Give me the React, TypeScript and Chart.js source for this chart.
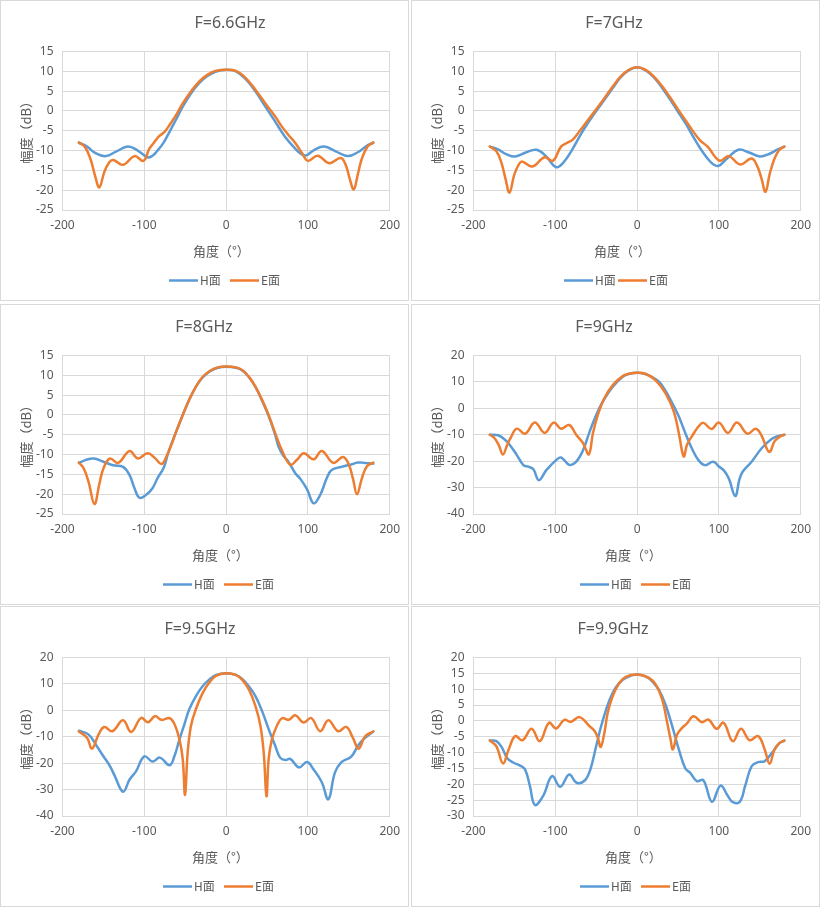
import React, { useEffect, useRef } from 'react';
import { Chart, registerables } from 'chart.js';

Chart.register(...registerables);

type Pt = [number, number];

// ---- data ----
const titles = ['F=6.6GHz', 'F=7GHz', 'F=8GHz', 'F=9GHz', 'F=9.5GHz', 'F=9.9GHz'];
const seriesNames = ['H面', 'E面'];
const xTitle = '角度（°）';
const yTitle = '幅度（dB）';
const xMin = -200;
const xMax = 200;
const xStep = 100;
const yMins = [-25, -25, -25, -40, -40, -30];
const yMaxs = [15, 15, 15, 20, 20, 20];
const ySteps = [5, 5, 5, 10, 10, 5];

// [angle, dB]
const h66: Pt[] = [[-180, -8], [-170, -9], [-160, -10.6], [-147, -11.4], [-134, -10.2], [-120, -9], [-108, -10], [-96, -11.7], [-90, -11.3], [-85, -10.3], [-77, -8.2], [-69, -5.2], [-61, -2.1], [-53, 1.1], [-43, 4.4], [-33, 7], [-23, 8.8], [-13, 9.9], [0, 10.4], [12, 10], [24, 8], [36, 4.9], [48, 1.1], [60, -2.7], [72, -6.5], [84, -9.4], [92, -10.9], [98, -11.2], [108, -9.8], [120, -9], [134, -10.2], [149, -11.4], [162, -10.3], [172, -8.8], [180, -8]];
const e66: Pt[] = [[-180, -8], [-173, -9], [-166, -12], [-160, -16.5], [-155, -19.3], [-149, -15.5], [-143, -13], [-138, -12.4], [-126, -13.6], [-112, -11.4], [-101, -12.6], [-94, -9.6], [-89, -8.2], [-83, -6.6], [-75, -5.2], [-69, -3.5], [-61, -1], [-53, 1.9], [-43, 4.9], [-33, 7.4], [-23, 9.1], [-13, 10.1], [0, 10.4], [12, 10.1], [24, 8.3], [36, 5.3], [48, 1.9], [60, -1.4], [68, -3.9], [76, -6], [85, -8.2], [93, -10.7], [100, -12.6], [112, -11.3], [126, -13.2], [140, -11.9], [146, -13.5], [151, -17], [156, -19.8], [161, -16], [166, -12], [173, -9], [180, -8]];

const h7: Pt[] = [[-180, -9], [-170, -9.7], [-160, -10.9], [-149, -11.5], [-136, -10.5], [-123, -9.8], [-112, -11.3], [-99, -14.2], [-90, -13], [-80, -10], [-68, -5.6], [-60, -3], [-50, 0], [-40, 2.8], [-30, 5.7], [-20, 8.5], [-10, 10.3], [0, 11], [10, 10.3], [20, 8.6], [30, 6], [40, 3], [50, -0.2], [60, -3.4], [70, -7], [80, -10.3], [90, -12.9], [99, -13.9], [110, -12], [124, -9.8], [137, -10.5], [150, -11.5], [162, -10.8], [172, -9.7], [180, -9]];
const e7: Pt[] = [[-180, -9], [-172, -10.2], [-166, -13], [-161, -17], [-156, -20.6], [-150, -16], [-144, -13.3], [-140, -12.8], [-128, -14], [-113, -11.7], [-103, -12.6], [-93, -9], [-85, -8], [-79, -7.3], [-70, -5], [-60, -2.3], [-50, 0.4], [-40, 3.2], [-30, 6.1], [-20, 8.7], [-10, 10.4], [0, 11], [10, 10.4], [20, 8.8], [30, 6.4], [40, 3.5], [50, 0.4], [60, -2.6], [70, -5.6], [77, -7.4], [87, -9.2], [95, -11.5], [102, -12.6], [112, -11.4], [126, -13.5], [140, -12], [147, -14], [152, -17], [157, -20.4], [162, -16], [168, -12], [174, -9.8], [180, -9]];

const h8: Pt[] = [[-180, -12.1], [-172, -11.4], [-162, -11], [-150, -11.8], [-138, -12.7], [-126, -13.1], [-118, -15.2], [-112, -18.5], [-106, -20.9], [-98, -20.2], [-90, -18.5], [-84, -16], [-76, -13.2], [-71, -9.7], [-65, -6.3], [-61, -4.2], [-53, 0], [-45, 3.9], [-37, 7.1], [-29, 9.4], [-20, 11], [-10, 11.9], [0, 12.15], [12, 11.9], [20, 11.2], [28, 9.5], [36, 7], [44, 3.6], [52, -0.3], [60, -5], [64, -8], [70, -10.3], [76.5, -11.9], [84.6, -14.7], [91, -16.2], [99, -18.8], [107, -22.3], [115, -20.2], [123, -16], [129, -13.9], [141, -13.1], [153, -12.5], [161, -12], [170, -12.1], [180, -12.3]];
const e8: Pt[] = [[-180, -12], [-174, -13.5], [-168, -17], [-161, -22.5], [-155, -17.5], [-150, -13.5], [-142, -11], [-132, -12.1], [-118, -9.1], [-108, -11], [-96, -9.7], [-87, -10.9], [-79, -12.4], [-73, -10.5], [-67, -7.6], [-61, -4.2], [-53, 0], [-45, 3.9], [-37, 7.1], [-29, 9.5], [-20, 11.1], [-10, 12], [0, 12.2], [12, 12], [20, 11.3], [28, 9.6], [36, 7.1], [44, 3.8], [52, 0], [60, -4.6], [68, -8.8], [78.5, -12.6], [86.6, -11.3], [95, -9.7], [107, -11.2], [117, -9.1], [131, -12.1], [143, -10.6], [150, -12.5], [155, -16], [160, -20], [166, -16], [172, -13], [180, -12]];

const h9: Pt[] = [[-180, -10], [-170, -10.2], [-163, -11.5], [-157, -13.3], [-147, -17.7], [-139, -21.5], [-133, -22.1], [-127, -23], [-120, -27.2], [-111, -23.4], [-99, -19.6], [-93, -18.6], [-83, -21.4], [-75, -20.4], [-66, -15.8], [-58, -8.8], [-50, -2.5], [-42, 2.5], [-30, 8.1], [-18, 11.9], [-10, 13], [0, 13.5], [10, 13], [18, 11.9], [27, 10], [35, 6.5], [43, 1.9], [51, -3.1], [59, -9.4], [67, -15.2], [75, -19.6], [83, -21.5], [93, -20.2], [100, -22], [106, -23.5], [112, -26.5], [120, -33.2], [125, -27], [129, -24], [140, -20.2], [152, -15.2], [164, -11.7], [172, -10.5], [180, -10]];
const e9: Pt[] = [[-180, -10], [-174, -11.4], [-169, -14], [-164, -17.5], [-159, -14], [-155, -11.4], [-147, -7.7], [-137, -9.6], [-125, -5.4], [-113, -9.3], [-102, -5.4], [-93, -7.7], [-83, -6.3], [-74.5, -10], [-66, -13.2], [-59, -17.4], [-54, -9.4], [-48, -2.5], [-40, 3.8], [-30, 8.7], [-18, 12.1], [-10, 13.1], [0, 13.5], [10, 13.1], [22.7, 10.6], [35, 5.6], [45, -1.3], [51, -9.4], [57, -18.2], [61, -13.8], [67, -10.6], [75, -6.9], [81, -5.5], [91, -7.8], [100, -5.4], [111, -9.3], [122, -5.4], [135, -9.6], [145, -7.7], [152, -10.2], [161.5, -16.5], [168, -12.5], [174, -10.8], [180, -10]];

const h95: Pt[] = [[-180, -7.7], [-168, -9.2], [-158, -13.6], [-150, -17.4], [-142, -21.1], [-136, -24.9], [-126, -30.8], [-118, -26.2], [-110, -23], [-100, -17.4], [-90, -19.4], [-81, -17.9], [-69, -20.8], [-63, -17.2], [-57, -11], [-51, -5.3], [-45, 0.4], [-37, 5.3], [-29, 9], [-20, 11.8], [-12, 13.4], [0, 14], [12, 13.4], [20, 11.8], [28, 9], [36, 5.3], [44, -0.3], [52, -7.1], [60, -13.4], [66, -17.9], [72.5, -18.8], [78.5, -18.4], [89, -21.6], [99, -19.6], [107, -22.4], [117, -27.2], [125, -33.7], [133, -23.6], [141, -19.6], [153, -17.5], [162, -13], [170, -10.4], [180, -8]];
const e95: Pt[] = [[-180, -8], [-170, -10.4], [-164, -14.5], [-156, -9.2], [-149, -6.3], [-139, -7.9], [-126, -3.8], [-116, -8.2], [-104, -2.9], [-95.5, -4.5], [-87, -2.2], [-79, -3.6], [-69, -3], [-63, -5.3], [-57, -11], [-53, -18.5], [-50.2, -32], [-47, -16], [-43, -5.9], [-37, 0.4], [-28.7, 6.5], [-20.6, 10.5], [-12.6, 13], [0, 14], [11.7, 13.4], [19.8, 11.5], [28, 7.8], [36, 1.5], [42, -5.9], [46, -16], [49.4, -32.5], [52, -18.5], [56, -11], [62, -5.9], [68.4, -3], [76.5, -3.6], [84.6, -1.9], [94.7, -4.6], [104, -2.9], [115, -7.9], [125, -3.8], [137, -7.9], [147, -6.3], [155, -10.4], [162, -14.5], [170, -9.8], [180, -8]];

const h99: Pt[] = [[-180, -6.2], [-172, -6.4], [-165, -8.5], [-159, -11.7], [-151, -13.2], [-143, -14.1], [-137, -15.3], [-131, -20.6], [-125, -26.5], [-115, -23.7], [-104, -17.4], [-94, -20.8], [-83, -16.9], [-74, -19.5], [-64, -18.8], [-57, -15.2], [-50, -7.9], [-44, -1.7], [-38, 3.5], [-30, 8.8], [-22, 11.9], [-13.8, 13.6], [0, 14.6], [12, 13.8], [20, 12], [26.7, 9.8], [34.8, 5.1], [43, -1.7], [51, -9], [59, -15], [65, -16.4], [73, -19], [81, -18.7], [91.5, -25.5], [102, -20.4], [111, -23.7], [117, -25.6], [125.6, -25.5], [132, -20.6], [140, -14.3], [148, -13], [156, -12.7], [168, -9], [174, -7], [180, -6.2]];
const e99: Pt[] = [[-180, -6.2], [-172, -8], [-164, -13.4], [-157, -9], [-149, -4.8], [-140, -6.1], [-129, -2.5], [-119, -6.4], [-107.7, -0.6], [-99, -2.4], [-89, 0.3], [-81, -0.3], [-70.4, 1.2], [-58, -1.7], [-52, -3.2], [-48, -5.3], [-44.5, -8.2], [-40, -3.8], [-36, 2.5], [-30, 7.7], [-22, 11.9], [-13.8, 13.9], [0, 14.6], [14.6, 13.6], [22.7, 11.5], [30.8, 6.7], [36.8, -0.6], [40.9, -5.8], [43.7, -9], [49, -4.3], [55, -2.2], [61, -0.8], [69, 1.5], [79, -0.4], [87.4, 0.4], [97, -2.5], [105.7, -0.6], [117, -6.4], [127, -2.5], [137.5, -6.1], [148, -4.8], [156, -9], [162, -13.5], [168, -9], [174, -7], [180, -6.2]];

const hSeries = [h66, h7, h8, h9, h95, h99];
const eSeries = [e66, e7, e8, e9, e95, e99];

// ---- look ----
const BLUE = '#5B9BD5';
const ORANGE = '#ED7D31';
const GRID = '#D9D9D9';
const TEXT = '#595959';
const PANEL_W = 409;
const PANEL_H = 301;

// per-panel placement of the box and its hand-placed texts (panel coordinates)
const PANELS = [
  { left: 0, top: 0, titleX: 230, xTitleX: 193, legendX: 169, legendGap: 61 },
  { left: 411, top: 0, titleX: 203, xTitleX: 183, legendX: 153, legendGap: 54 },
  { left: 0, top: 304, titleX: 204, xTitleX: 192, legendX: 163, legendGap: 61 },
  { left: 411, top: 304, titleX: 193, xTitleX: 194, legendX: 169, legendGap: 61 },
  { left: 0, top: 606, titleX: 200, xTitleX: 192, legendX: 163, legendGap: 61 },
  { left: 411, top: 606, titleX: 202, xTitleX: 194, legendX: 169, legendGap: 61 },
];

const CJK = '"Noto Sans CJK SC", "Noto Sans", sans-serif';
const TICK_FONT = { family: '"Noto Sans", sans-serif', size: 12 };

// title, axis titles and legend drawn at fixed spots like the Excel sheet
const panelText = {
  id: 'panelText',
  afterDraw(chart, _args, opts) {
    const ctx = chart.ctx;
    ctx.save();
    ctx.fillStyle = TEXT;
    ctx.textBaseline = 'middle';

    ctx.font = '16px "Noto Sans", sans-serif';
    ctx.textAlign = 'center';
    ctx.fillText(opts.title, opts.titleX - 1, 22);

    ctx.font = '13px ' + CJK;
    ctx.textAlign = 'left';
    ctx.fillText(xTitle, opts.xTitleX - 1, 250);

    ctx.save();
    ctx.translate(24.8, 162.5);
    ctx.rotate(-Math.PI / 2);
    ctx.fillText(yTitle, 0, 0);
    ctx.restore();

    ctx.font = '12px ' + CJK;
    chart.data.datasets.forEach((ds, i) => {
      const x0 = opts.legendX - 1 + i * opts.legendGap;
      const y0 = 279.5;
      ctx.strokeStyle = ds.borderColor;
      ctx.lineWidth = 2.5;
      ctx.beginPath();
      ctx.moveTo(x0, y0);
      ctx.lineTo(x0 + 29, y0);
      ctx.stroke();
      ctx.fillStyle = TEXT;
      ctx.fillText(ds.label, x0 + 31, y0);
    });
    ctx.restore();
  },
};

function Panel({ index }: { index: number }) {
  const canvasRef = useRef<HTMLCanvasElement>(null);

  useEffect(() => {
    if (!canvasRef.current) return;
    const p = PANELS[index];
    const toXY = (pts: Pt[]) => pts.map(([x, y]) => ({ x, y }));
    // smoothed lines, like Excel's "smoothed line" option
    const line = {
      pointRadius: 0,
      borderWidth: 2.5,
      fill: false,
      tension: 0.4,
      borderCapStyle: 'round',
      borderJoinStyle: 'round',
    };

    const chart = new Chart(canvasRef.current, {
      type: 'line',
      data: {
        datasets: [
          { ...line, label: seriesNames[0], data: toXY(hSeries[index]), borderColor: BLUE, backgroundColor: BLUE, order: 1 },
          { ...line, label: seriesNames[1], data: toXY(eSeries[index]), borderColor: ORANGE, backgroundColor: ORANGE, order: 0 },
        ],
      },
      options: {
        animation: false,
        responsive: false,
        events: [],
        layout: {
          autoPadding: false,
          padding: { left: 0, top: 50.5, right: 15.5, bottom: 0 },
        },
        plugins: {
          legend: { display: false },
          title: { display: false },
          tooltip: { enabled: false },
          panelText: { title: titles[index], titleX: p.titleX, xTitleX: p.xTitleX, legendX: p.legendX, legendGap: p.legendGap },
        },
        scales: {
          x: {
            type: 'linear',
            min: xMin,
            max: xMax,
            ticks: { stepSize: xStep, autoSkip: false, maxRotation: 0, color: TEXT, padding: 8, font: TICK_FONT },
            grid: { color: GRID, lineWidth: 1, drawTicks: false },
            border: { color: GRID },
            afterFit: (s) => { s.height = 90; },
          },
          y: {
            min: yMins[index],
            max: yMaxs[index],
            ticks: { stepSize: ySteps[index], autoSkip: false, color: TEXT, padding: 9, font: TICK_FONT },
            grid: { color: GRID, lineWidth: 1, drawTicks: false },
            border: { color: GRID },
            afterFit: (s) => { s.width = 61.5; },
          },
        },
      },
      plugins: [panelText],
    });

    return () => chart.destroy();
  }, [index]);

  const p = PANELS[index];
  return (
    <div
      style={{
        position: 'absolute',
        left: p.left,
        top: p.top,
        width: PANEL_W,
        height: PANEL_H,
        boxSizing: 'border-box',
        border: '1px solid ' + GRID,
        background: '#fff',
      }}
    >
      <canvas ref={canvasRef} width={PANEL_W - 2} height={PANEL_H - 2} style={{ display: 'block' }} />
    </div>
  );
}

export default function App() {
  return (
    <div style={{ position: 'absolute', left: 0, top: 0, width: 820, height: 908, background: '#fff' }}>
      {titles.map((_, i) => (
        <Panel key={i} index={i} />
      ))}
    </div>
  );
}
